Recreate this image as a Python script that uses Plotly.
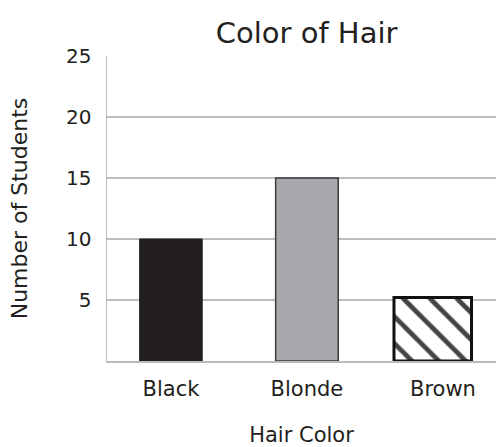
import plotly.graph_objects as go

categories = ["Black", "Blonde", "Brown"]
values = [10, 15, 5.2]
bar_colors = ["#231f20", "#a7a9ac", "#ffffff"]
y_ticks = [5, 10, 15, 20, 25]

fig = go.Figure()
fig.add_trace(go.Bar(
    x=categories,
    y=values,
    width=[0.46, 0.46, 0.57],
    offset=[-0.23, -0.23, -0.36],
    marker=dict(
        color=bar_colors,
        line=dict(color=["#231f20", "#3a3a3a", "#111111"], width=[1, 1.5, 3]),
        pattern=dict(shape=["", "", "\\"], fgcolor="#000000", bgcolor="#ffffff",
                     fgopacity=1, size=19, solidity=0.25, fillmode="overlay"),
    ),
    showlegend=False,
    hoverinfo="skip",
))

txt = "#231f20"
fig.update_layout(
    width=496, height=447,
    margin=dict(l=107, r=0, t=56, b=86),
    paper_bgcolor="white", plot_bgcolor="white",
    font=dict(family="DejaVu Sans", color=txt),
    title=dict(text="Color of Hair", x=0.513, xanchor="center", xref="paper",
               y=1 - 33 / 447, yanchor="middle", yref="container",
               font=dict(size=29, color=txt)),
)
fig.update_xaxes(
    range=[-0.47, 2.39],
    showgrid=False, showline=True, linecolor="#bbbbbb", linewidth=1.5,
    ticks="", tickfont=dict(size=21, color=txt), ticklabelstandoff=8,
    title=dict(text="Hair Color", font=dict(size=21, color=txt), standoff=30),
)
fig.update_yaxes(
    range=[0, 25],
    tickvals=y_ticks, ticktext=[str(v) for v in y_ticks],
    showgrid=True, gridcolor="#bdbdbd", gridwidth=1.2,
    showline=True, linecolor="#bbbbbb", linewidth=1.5,
    ticks="", tickfont=dict(size=20, color=txt), ticklabelstandoff=10,
    title=dict(text="Number of Students", font=dict(size=22, color=txt), standoff=32),
    zeroline=False,
)

fig.write_html(
    "out.html",
    config={"displayModeBar": False, "staticPlot": True},
    post_script="document.documentElement.style.overflow='hidden';"
                "document.body.style.margin='0';document.body.style.overflow='hidden';",
)
